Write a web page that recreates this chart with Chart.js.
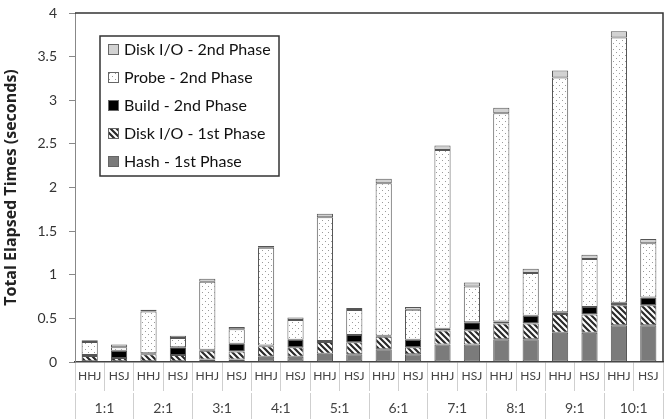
<!DOCTYPE html>
<html>
<head>
<meta charset="utf-8">
<script src="https://cdn.jsdelivr.net/npm/chart.js@4.4.0/dist/chart.umd.min.js"></script>
<style>
  html, body { margin: 0; padding: 0; background: #fff; }
</style>
</head>
<body>
<canvas id="chart" width="671" height="419"></canvas>
<script>
// categories
const joinLabels = ['HHJ','HSJ','HHJ','HSJ','HHJ','HSJ','HHJ','HSJ','HHJ','HSJ',
                    'HHJ','HSJ','HHJ','HSJ','HHJ','HSJ','HHJ','HSJ','HHJ','HSJ'];
const ratios = ['1:1','2:1','3:1','4:1','5:1','6:1','7:1','8:1','9:1','10:1'];

// series values (seconds)
const hash1st  = [0.01,0.01, 0.01,0.01, 0.03,0.03, 0.06,0.06, 0.095,0.09, 0.145,0.09, 0.2,0.2, 0.26,0.26, 0.335,0.335, 0.42,0.42];
const diskIo1st = [0.06,0.035, 0.08,0.07, 0.10,0.09, 0.12,0.11, 0.135,0.135, 0.145,0.08, 0.16,0.165, 0.18,0.18, 0.215,0.21, 0.23,0.23];
const build2nd = [0.01,0.085, 0.01,0.09, 0.01,0.09, 0.01,0.085, 0.01,0.085, 0.01,0.085, 0.02,0.09, 0.025,0.09, 0.02,0.085, 0.03,0.09];
const probe2nd = [0.15,0.04, 0.48,0.105, 0.78,0.165, 1.12,0.225, 1.42,0.285, 1.75,0.345, 2.05,0.41, 2.385,0.49, 2.69,0.55, 3.04,0.62];
const diskIo2nd = [0.02,0.03, 0.02,0.025, 0.035,0.025, 0.02,0.03, 0.04,0.025, 0.05,0.03, 0.05,0.045, 0.065,0.05, 0.08,0.05, 0.07,0.05];

const FONT = 'Lato, "Open Sans", sans-serif';

function hatchPattern() {
  const c = document.createElement('canvas');
  c.width = 6; c.height = 6;
  const g = c.getContext('2d');
  g.fillStyle = '#fff';
  g.fillRect(0, 0, 6, 6);
  g.strokeStyle = '#2a2a2a';
  g.lineWidth = 2.2;
  g.beginPath();
  g.moveTo(-1, -1); g.lineTo(7, 7);
  g.moveTo(5, -1); g.lineTo(7, 1);
  g.moveTo(-1, 5); g.lineTo(1, 7);
  g.stroke();
  return g.createPattern(c, 'repeat');
}

function dotPattern() {
  const c = document.createElement('canvas');
  c.width = 6; c.height = 6;
  const g = c.getContext('2d');
  g.fillStyle = '#fff';
  g.fillRect(0, 0, 6, 6);
  g.fillStyle = '#9a9a9a';
  g.fillRect(1, 1, 1, 1);
  g.fillRect(4, 4, 1, 1);
  return g.createPattern(c, 'repeat');
}

// frame on top/right and the boxed legend inside the plot
const frameAndLegend = {
  id: 'frameAndLegend',
  afterDraw(chart) {
    const { ctx, chartArea } = chart;
    ctx.save();
    ctx.strokeStyle = '#333';
    ctx.lineWidth = 1.5;
    ctx.beginPath();
    ctx.moveTo(chartArea.left, chartArea.top);
    ctx.lineTo(chartArea.right, chartArea.top);
    ctx.lineTo(chartArea.right, chartArea.bottom);
    ctx.stroke();

    const x = chartArea.left + 25, y = chartArea.top + 23, w = 179, h = 140;
    ctx.fillStyle = '#fff';
    ctx.fillRect(x, y, w, h);
    ctx.strokeStyle = '#333';
    ctx.lineWidth = 1.5;
    ctx.strokeRect(x, y, w, h);

    const items = chart.data.datasets.slice().reverse();
    ctx.font = '16px ' + FONT;
    ctx.textBaseline = 'middle';
    items.forEach((ds, i) => {
      const cy = y + 14 + i * 28;
      ctx.fillStyle = ds.backgroundColor;
      ctx.fillRect(x + 8, cy - 6, 11, 11);
      ctx.strokeStyle = '#666';
      ctx.lineWidth = 1;
      ctx.strokeRect(x + 8.5, cy - 5.5, 10, 10);
      ctx.fillStyle = '#111';
      ctx.fillText(ds.label, x + 24, cy);
    });
    ctx.restore();
  }
};

const ctx = document.getElementById('chart').getContext('2d');

const barStyle = {
  borderColor: '#555',
  borderWidth: 1,
  borderSkipped: false,
  barPercentage: 0.55,
  categoryPercentage: 1.0
};

new Chart(ctx, {
  type: 'bar',
  data: {
    labels: joinLabels,
    datasets: [
      { label: 'Hash - 1st Phase', data: hash1st, backgroundColor: '#7b7b7b', ...barStyle },
      { label: 'Disk I/O - 1st Phase', data: diskIo1st, backgroundColor: hatchPattern(), ...barStyle },
      { label: 'Build - 2nd Phase', data: build2nd, backgroundColor: '#000', ...barStyle },
      { label: 'Probe - 2nd Phase', data: probe2nd, backgroundColor: dotPattern(), ...barStyle },
      { label: 'Disk I/O - 2nd Phase', data: diskIo2nd, backgroundColor: '#d2d2d2', ...barStyle }
    ]
  },
  options: {
    responsive: false,
    animation: false,
    devicePixelRatio: 1,
    layout: { padding: { top: 13, right: 8, bottom: 0, left: 2 } },
    plugins: {
      legend: { display: false },
      tooltip: { enabled: false }
    },
    scales: {
      x: {
        stacked: true,
        offset: true,
        grid: { offset: true, drawOnChartArea: false, tickLength: 29, color: '#cfcfcf' },
        border: { color: '#444', width: 1.5 },
        ticks: { padding: -22, color: '#444', font: { size: 12, family: FONT }, maxRotation: 0, autoSkip: false },
        afterFit: s => { s.height = 31; }
      },
      x2: {
        type: 'category',
        labels: ratios,
        position: 'bottom',
        offset: true,
        grid: { offset: true, drawOnChartArea: false, tickLength: 26, color: '#cfcfcf' },
        border: { display: false },
        ticks: { padding: -19, color: '#444', font: { size: 14, family: FONT }, maxRotation: 0 },
        afterFit: s => { s.height = 26; }
      },
      y: {
        stacked: true,
        min: 0,
        max: 4,
        ticks: {
          stepSize: 0.5,
          color: '#333',
          padding: 12,
          font: { size: 14, family: FONT },
          callback: v => String(v)
        },
        grid: { drawOnChartArea: false, tickLength: 6, color: '#888' },
        border: { color: '#888' },
        title: {
          display: true,
          text: 'Total Elapsed Times (seconds)',
          color: '#222',
          font: { size: 16, weight: 'bold', family: '"Open Sans", sans-serif' },
          padding: { top: 0, bottom: 2 }
        },
        afterFit: s => { s.width = 73; s.paddingTop = 0; s.paddingBottom = 0; }
      }
    }
  },
  plugins: [frameAndLegend]
});
</script>
</body>
</html>
